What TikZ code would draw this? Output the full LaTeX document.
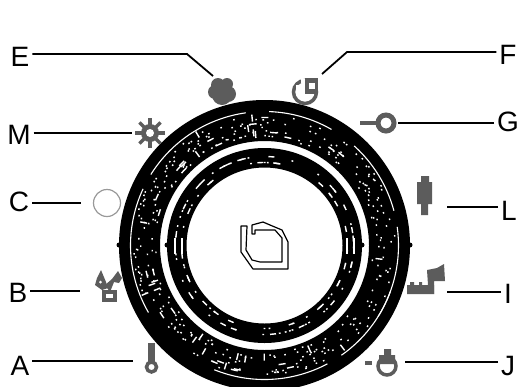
\documentclass[tikz,border=0pt]{standalone}
\usepackage{fontspec}
\usetikzlibrary{calc}
\setmainfont{Liberation Sans}
\definecolor{icon}{HTML}{5C5C5C}
\tikzset{
 lab/.style={font=\fontsize{28}{28}\selectfont,inner sep=3pt,outer sep=0pt,text=black},
 conn/.style={draw=black,line width=1.8pt},
 icl/.style={draw=icon,fill=none,line width=3.5pt},
 speck/.style={fill=white,draw=none}
}
\begin{document}
\begin{tikzpicture}[x=1pt,y=-1pt]
\useasboundingbox (0,0) rectangle (521,386);
\clip (0,0) rectangle (521,386);
\fill[white] (0,0) rectangle (521,386);
\coordinate (c) at (264.5,245.5);
% rings
\fill[black,even odd rule] (c) circle[radius=145.5] (c) circle[radius=104.5];
\fill[black,even odd rule] (c) circle[radius=97.5] (c) circle[radius=78];
\fill[black] (119,245) circle[radius=2.5] (410,245) circle[radius=2.5] (167,245) circle[radius=2.5] (362,245) circle[radius=2.5];
% white lines
\foreach \a/\b in {150/205,212/262,272/300,312/345,352/392,20/55,62/112}{
  \draw[white,line width=1.1pt] ($(c)+(\a:134)$) arc[start angle=\a,end angle=\b,radius=134];
}
\foreach \a in {0,180}{
 \foreach \d in {-4,3}{
  \fill[white] ($(c)+(\a:86)+(\d,0)$) ++(-1,-8) rectangle ++(2.2,16);
 }
}
% specks
\pgfmathsetseed{4217}
\foreach \i in {1,...,300}{
  \pgfmathsetmacro\ang{rnd*360}
  \pgfmathsetmacro\rad{108+rnd*23}
  \fill[speck,shift={($(c)+(\ang:\rad)$)},rotate=-\ang+90] (-0.8,-0.7) rectangle (0.8,0.7);
}
\foreach \i in {1,...,45}{
  \pgfmathsetmacro\ang{rnd*360}
  \pgfmathsetmacro\rad{110+rnd*20}
  \pgfmathsetmacro\turn{rnd<0.5?0:90}
  \fill[speck,shift={($(c)+(\ang:\rad)$)},rotate=-\ang+90+\turn] (-3.5,-0.7) rectangle (3.5,0.7);
}
\foreach \i in {1,...,100}{
  \pgfmathsetmacro\ang{rnd*360}
  \pgfmathsetmacro\rad{rnd<0.5?83:89}
  \pgfmathsetmacro\len{rnd<0.6?0.9:3}
  \fill[speck,shift={($(c)+(\ang:\rad)$)},rotate=-\ang+90] (-\len,-0.7) rectangle (\len,0.7);
}
% centre leaf
\draw[black,line width=1.2pt,line join=round] (241,226)--(247,226)--(246,250)--(252,260)--(260,262)--(282,262)--(282,238)--(275,230)--(255,230)--(255,234)--(252,234)--(252,225)--(263,222)--(270,225)--(282,230)--(288,242)--(288,269)--(253,269)--(241,252)--cycle;
% icons
\node[inner sep=0pt] (iconE) at (222,92) {};
\fill[icon] (218,85) circle[radius=7] (227,84) circle[radius=6] (215,92) circle[radius=7] (222,95) circle[radius=10] (228,94) circle[radius=8];
\node[inner sep=0pt] (iconM) at (150,133) {};
\fill[icon,shift={(iconM)}] (0,0) circle[radius=9];
\foreach \a in {0,45,...,315}{\draw[icon,line width=3.2pt,shift={(iconM)}] (0,0)--(\a:15);}
\fill[white] (iconM) circle[radius=4];
\node[inner sep=0pt] (iconF) at (305,92) {};
\draw[icl] (iconF) circle[radius=11.5];
\fill[icon] (305,78) rectangle (318,94);
\fill[white] (309,83) rectangle (315,89);
\fill[white] (301,78.5) rectangle (304.5,83);
\fill[white] (296,85) rectangle (305,94);
\node[inner sep=0pt] (iconG) at (386,123) {};
\draw[icl,line width=5pt] (iconG) circle[radius=8];
\draw[icl,line width=4pt] (360,123)--(377,123);
\node[inner sep=0pt] (iconC) at (107,203) {};
\draw[draw=gray!80,line width=1.2pt] (iconC) circle[radius=13.5];
\node[inner sep=0pt] (iconL) at (425,196) {};
\fill[icon] (421,176) rectangle (429,184) (417,182) rectangle (432,204) (421,204) rectangle (428,215);
\node[inner sep=0pt] (iconI) at (425,282) {};
\fill[icon] (407,285) rectangle (434,294) (410,282) rectangle (414,285) (419,282) rectangle (422,285);
\fill[icon] (427,270)--(437,268)--(444,264)--(445,281)--(434,281)--(434,294)--(428,285)--cycle;
\node[inner sep=0pt] (iconJ) at (387,366) {};
\draw[icl] (iconJ) circle[radius=9];
\fill[icon] (384,349) rectangle (391,362) (379,355) rectangle (395,364);
\fill[icon] (365,361) rectangle (372,365);
\node[inner sep=0pt] (iconB) at (108,290) {};
\fill[icon] (101,270)--(106,282)--(108,288)--(102,290)--(95,285)--(97,278)--cycle;
\fill[white] (100.5,282) circle[radius=1.5];
\fill[icon] (112,279)--(118,271)--(122,278)--(119,283)--(114,282)--(110,292)--(105,285)--cycle;
\draw[icl] (104,292) rectangle (115,300);
\node[inner sep=0pt] (iconA) at (151,360) {};
\fill[icon] (148,343) rectangle (155,364);
\draw[icl] (151.5,367) circle[radius=5];
% labels
\node[lab] (lE) at (20,57) {E};
\node[lab] (lF) at (508,55) {F};
\node[lab] (lG) at (508,122) {G};
\node[lab] (lM) at (19,135) {M};
\node[lab] (lC) at (19,202) {C};
\node[lab] (lL) at (509,211) {L};
\node[lab] (lB) at (18,293) {B};
\node[lab] (lI) at (508,294) {I};
\node[lab] (lA) at (20,366) {A};
\node[lab] (lJ) at (508,366) {J};
% connector ends
\coordinate (eE) at (213,76); \coordinate (bE) at (187,54);
\coordinate (eF) at (322,74); \coordinate (bF) at (347,52);
\coordinate (eG) at (398,123);
\coordinate (eM) at (132,133);
\coordinate (eC) at (81,203);
\coordinate (eL) at (447,207);
\coordinate (eB) at (80,291);
\coordinate (eI) at (447,292);
\coordinate (eA) at (133,361);
\coordinate (eJ) at (405,362);
\draw[conn] (lE.east |- bE) -- (bE) -- (eE);
\draw[conn] (lF.west |- bF) -- (bF) -- (eF);
\draw[conn] (lG.west |- eG) -- (eG);
\draw[conn] (lM.east |- eM) -- (eM);
\draw[conn] (lC.east |- eC) -- (eC);
\draw[conn] (lL.west |- eL) -- (eL);
\draw[conn] (lB.east |- eB) -- (eB);
\draw[conn] (lI.west |- eI) -- (eI);
\draw[conn] (lA.east |- eA) -- (eA);
\draw[conn] (lJ.west |- eJ) -- (eJ);
\end{tikzpicture}
\end{document}
